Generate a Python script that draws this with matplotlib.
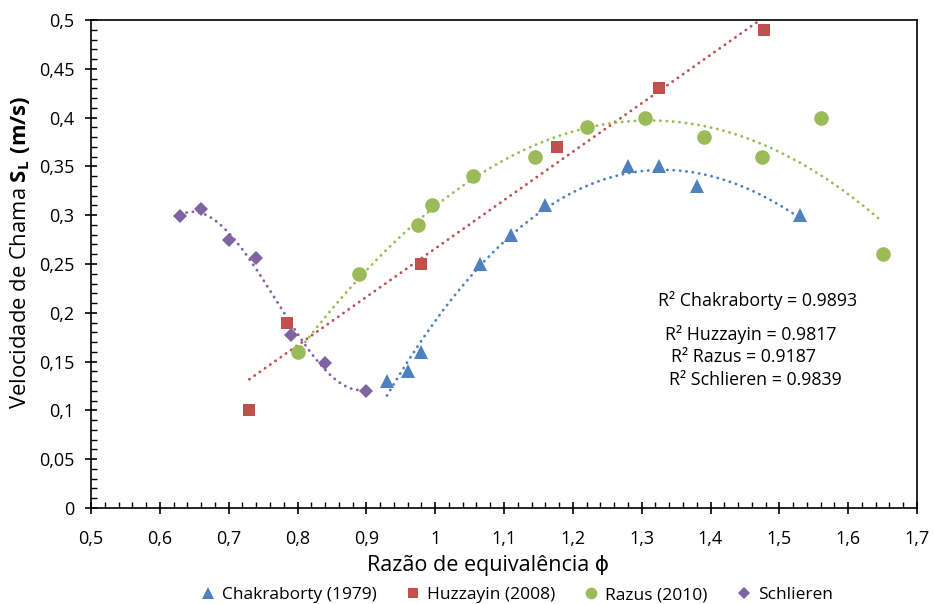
import numpy as np
import matplotlib
matplotlib.use("Agg")
import matplotlib.pyplot as plt
from matplotlib.ticker import MultipleLocator, FuncFormatter

plt.rcParams['font.family'] = ['Open Sans', 'DejaVu Sans']
plt.rcParams['mathtext.fontset'] = 'custom'
plt.rcParams['mathtext.rm'] = 'Open Sans'
plt.rcParams['mathtext.bf'] = 'Open Sans:bold'

# Measured laminar flame speeds versus equivalence ratio
chak_phi = [0.93, 0.96, 0.98, 1.065, 1.11, 1.16, 1.28, 1.325, 1.38, 1.53]
chak_sl = [0.13, 0.14, 0.16, 0.25, 0.28, 0.31, 0.35, 0.35, 0.33, 0.30]

huzz_phi = [0.73, 0.785, 0.98, 1.177, 1.325, 1.477]
huzz_sl = [0.10, 0.19, 0.25, 0.37, 0.43, 0.49]

razus_phi = [0.80, 0.89, 0.975, 0.995, 1.055, 1.145, 1.22, 1.305, 1.39, 1.475, 1.56, 1.65]
razus_sl = [0.16, 0.24, 0.29, 0.31, 0.34, 0.36, 0.39, 0.40, 0.38, 0.36, 0.40, 0.26]

schl_phi = [0.63, 0.66, 0.70, 0.74, 0.79, 0.84, 0.90]
schl_sl = [0.299, 0.306, 0.275, 0.256, 0.177, 0.149, 0.120]

series = [
    ("Chakraborty (1979)", chak_phi, chak_sl, "#4F81BD", "^", 3, 10),
    ("Huzzayin (2008)", huzz_phi, huzz_sl, "#C0504D", "s", 1, 9),
    ("Razus (2010)", razus_phi, razus_sl, "#9BBB59", "o", 2, 10.5),
    ("Schlieren", schl_phi, schl_sl, "#8064A2", "D", 3, 7.5),
]

r2_labels = [
    ("R² Chakraborty = 0.9893", 658, 300),
    ("R² Huzzayin = 0.9817", 665, 335),
    ("R² Razus = 0.9187", 671, 357),
    ("R² Schlieren = 0.9839", 669, 380),
]

fig = plt.figure(figsize=(9.34, 6.04), dpi=100)
ax = fig.add_axes([91 / 934, 96 / 604, 826 / 934, 488 / 604])

for name, x, y, color, marker, deg, ms in series:
    coef = np.polyfit(x, y, deg)
    xs = np.linspace(min(x), max(x), 200)
    ax.plot(xs, np.polyval(coef, xs), color=color, lw=2.0,
            linestyle=(0, (0.1, 2.2)), dash_capstyle='round', zorder=2)
    ax.plot(x, y, linestyle='none', marker=marker, color=color, ms=ms,
            markeredgewidth=0, label=name, zorder=3)

ax.set_xlim(0.5, 1.7)
ax.set_ylim(0, 0.5)
ax.xaxis.set_major_locator(MultipleLocator(0.1))
ax.xaxis.set_minor_locator(MultipleLocator(0.02))
ax.yaxis.set_major_locator(MultipleLocator(0.05))
ax.yaxis.set_minor_locator(MultipleLocator(0.01))


def comma_fmt(v, pos):
    s = f"{v:.2f}".rstrip('0').rstrip('.')
    return s.replace('.', ',')


ax.xaxis.set_major_formatter(FuncFormatter(comma_fmt))
ax.yaxis.set_major_formatter(FuncFormatter(comma_fmt))

ax.tick_params(which='major', direction='inout', length=8, width=1.2,
               labelsize=13, colors='black')
ax.tick_params(axis='x', which='major', pad=12)
ax.tick_params(axis='y', which='major', pad=8)
ax.tick_params(which='minor', direction='in', length=4, width=1.0)
ax.tick_params(top=False, right=False, which='both')
for sp in ax.spines.values():
    sp.set_color('black')
    sp.set_linewidth(1.2)

ax.set_xlabel("Razão de equivalência ϕ", fontsize=15.5, va='center')
ax.xaxis.set_label_coords((488 - 91) / 826, (508 - 566) / 488)
ax.set_ylabel(r"Velocidade de Chama $\mathbf{S_L\ (m/s)}$", fontsize=15.8, va='center')
ax.yaxis.set_label_coords((20 - 91) / 826, (508 - 252) / 488)

for text, px, py in r2_labels:
    ax.text(px / 934, 1 - py / 604, text, transform=fig.transFigure,
            fontsize=12.8, ha='left', va='center')

ax.legend(loc='center', bbox_to_anchor=(516 / 934, 1 - 595 / 604),
          bbox_transform=fig.transFigure, ncol=4, frameon=False,
          fontsize=12.5, handlelength=1.0, handletextpad=0.3,
          columnspacing=1.6, markerscale=0.8, borderpad=0)

fig.savefig("out.png", dpi=100)
